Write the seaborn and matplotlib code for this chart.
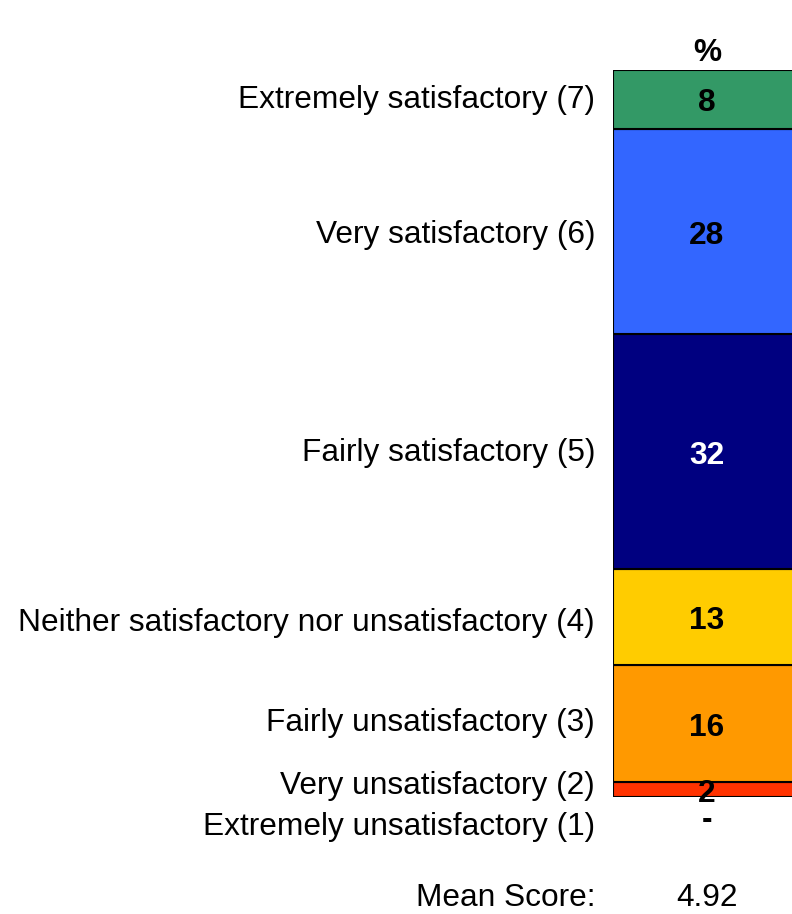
import matplotlib
matplotlib.use("Agg")
import matplotlib.pyplot as plt
import matplotlib.transforms as mtransforms
import numpy as np
import pandas as pd
import seaborn as sns

# categories from bottom to top of the stacked bar
categories = [
    "Extremely unsatisfactory (1)",
    "Very unsatisfactory (2)",
    "Fairly unsatisfactory (3)",
    "Neither satisfactory nor unsatisfactory (4)",
    "Fairly satisfactory (5)",
    "Very satisfactory (6)",
    "Extremely satisfactory (7)",
]
percents = [0, 2, 16, 13, 32, 28, 8]
colors = ["#FF3300", "#FF3300", "#FF9900", "#FFCC00", "#000080", "#3366FF", "#339966"]
value_colors = ["black", "black", "black", "black", "white", "black", "black"]
# small pixel nudges for crowded labels at the bottom
label_nudge = [-30, 4, 1, -6, -1, -3, -1]
mean_score = 4.92

sns.set_style("white")
plt.rcParams["font.family"] = ["Liberation Sans", "DejaVu Sans"]
plt.rcParams["text.color"] = "black"

W, H = 792, 914
fig = plt.figure(figsize=(W / 100, H / 100), dpi=100)
bar_left, bar_right = 613, 801
bar_bottom, bar_top = 797, 70
ax = fig.add_axes([bar_left / W, (H - bar_bottom) / H,
                   (bar_right - bar_left) / W, (bar_bottom - bar_top) / H])

df = pd.DataFrame({"cat": categories, "pct": percents, "color": colors})
bottoms = np.concatenate([[0], np.cumsum(percents)[:-1]])
for i, row in df.iterrows():
    if row["pct"] == 0:
        continue
    sns.barplot(x=[0], y=[row["pct"]], bottom=bottoms[i], color=row["color"],
                saturation=1, width=1.0, edgecolor="black", linewidth=1.5, ax=ax)

ax.set_xlim(-0.5, 0.5)
ax.set_ylim(0, sum(percents))
ax.axis("off")

# x in figure pixels, y in data
trans = mtransforms.blended_transform_factory(fig.dpi_scale_trans, ax.transData)
fs = 22.8
for i, cat in enumerate(categories):
    yc = bottoms[i] + percents[i] / 2
    off = mtransforms.offset_copy(trans, fig=fig, x=0, y=label_nudge[i], units="dots")
    ax.text(595 / 100, yc, cat, transform=off, ha="right", va="center",
            fontsize=fs, clip_on=False)
    if percents[i] == 0:
        voff = mtransforms.offset_copy(trans, fig=fig, x=0, y=-23, units="dots")
        ax.text(707 / 100, yc, "-", transform=voff, ha="center", va="center",
                fontsize=fs, fontweight="bold", clip_on=False)
    else:
        voff = mtransforms.offset_copy(trans, fig=fig, x=0, y=-4, units="dots")
        ax.text(707 / 100, yc, str(percents[i]), transform=voff, ha="center",
                va="center", fontsize=fs, fontweight="bold",
                color=value_colors[i], clip_on=False)

fig.text(707 / W, 1 - 53 / H, "%", ha="center", va="center",
         fontsize=fs, fontweight="bold")
fig.text(595 / W, 1 - 898 / H, "Mean Score:", ha="right", va="center", fontsize=fs)
fig.text(707 / W, 1 - 898 / H, f"{mean_score:.2f}", ha="center", va="center", fontsize=fs)

fig.savefig("out.png", dpi=100, facecolor="white")
